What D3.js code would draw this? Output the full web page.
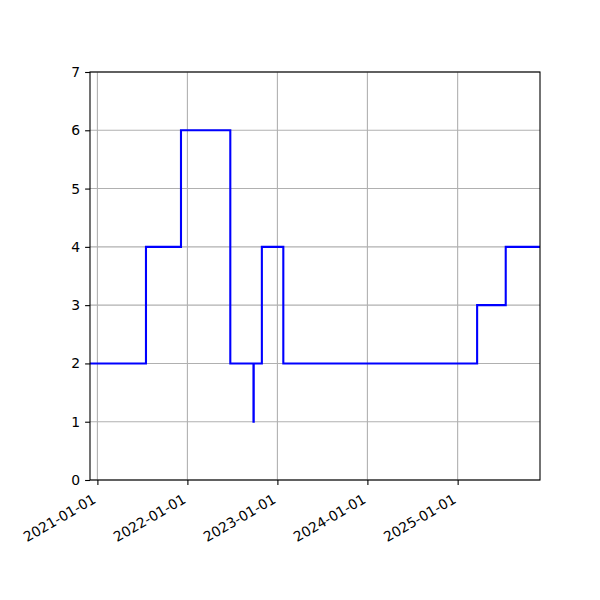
<!DOCTYPE html>
<html>
<head>
<meta charset="utf-8">
<script src="https://cdn.jsdelivr.net/npm/d3@7"></script>
<style>
  body { margin: 0; background: #fff; }
  text { font-family: "DejaVu Sans", sans-serif; }
</style>
</head>
<body>
<svg id="chart" width="600" height="600"></svg>
<script>
// step data (steps-post)
var dates = ['2020-12-02', '2021-07-17', '2021-12-06', '2022-06-24', '2022-09-26',
             '2022-09-27', '2022-10-30', '2023-01-25', '2025-03-21', '2025-07-15', '2025-12-01'];
var values = [2, 4, 6, 2, 1, 2, 4, 2, 3, 4, 4];
var xTicks = ['2021-01-01', '2022-01-01', '2023-01-01', '2024-01-01', '2025-01-01'];
var yTicks = [0, 1, 2, 3, 4, 5, 6, 7];

var parse = d3.timeParse('%Y-%m-%d');
var points = dates.map(function(d, i) {
  return {date: parse(d), value: values[i]};
});

var margin = {left: 90, right: 60, top: 72, bottom: 120};
var width = 600 - margin.left - margin.right;
var height = 600 - margin.top - margin.bottom;

var svg = d3.select('#chart');
var g = svg.append('g')
  .attr('transform', 'translate(' + margin.left + ',' + margin.top + ')');

var x = d3.scaleTime()
  .domain(d3.extent(points, function(d) { return d.date; }))
  .range([0, width]);
var y = d3.scaleLinear().domain([0, 7]).range([height, 0]);

// grid
g.append('g').selectAll('line')
  .data(xTicks.map(parse))
  .enter().append('line')
  .attr('x1', function(d) { return x(d); })
  .attr('x2', function(d) { return x(d); })
  .attr('y1', 0).attr('y2', height)
  .attr('stroke', '#b0b0b0').attr('stroke-width', 1.1);
g.append('g').selectAll('line')
  .data(yTicks)
  .enter().append('line')
  .attr('x1', 0).attr('x2', width)
  .attr('y1', function(d) { return y(d); })
  .attr('y2', function(d) { return y(d); })
  .attr('stroke', '#b0b0b0').attr('stroke-width', 1.1);

// step line
var line = d3.line()
  .curve(d3.curveStepAfter)
  .x(function(d) { return x(d.date); })
  .y(function(d) { return y(d.value); });
g.append('path')
  .datum(points)
  .attr('d', line)
  .attr('fill', 'none')
  .attr('stroke', '#0000ff')
  .attr('stroke-width', 2.1);

// axes
var yAxis = g.append('g')
  .call(d3.axisLeft(y).tickValues(yTicks).tickSize(4.9).tickPadding(4.9).tickFormat(d3.format('d')));
var xAxis = g.append('g')
  .attr('transform', 'translate(0,' + height + ')')
  .call(d3.axisBottom(x).tickValues(xTicks.map(parse)).tickSize(4.9).tickFormat(d3.timeFormat('%Y-%m-%d')));

[yAxis, xAxis].forEach(function(ax) {
  ax.select('.domain').remove();
  ax.selectAll('line').attr('stroke', '#000').attr('stroke-width', 1.1);
  ax.selectAll('text').attr('fill', '#000').style('font-size', '13.9px')
    .style('font-family', '"DejaVu Sans", sans-serif');
});

xAxis.selectAll('text')
  .attr('text-anchor', 'end')
  .attr('dy', null)
  .attr('y', null)
  .attr('transform', 'translate(-1,22) rotate(-30)');

// frame
g.append('rect')
  .attr('width', width).attr('height', height)
  .attr('fill', 'none').attr('stroke', '#000').attr('stroke-width', 1.1);
</script>
</body>
</html>
